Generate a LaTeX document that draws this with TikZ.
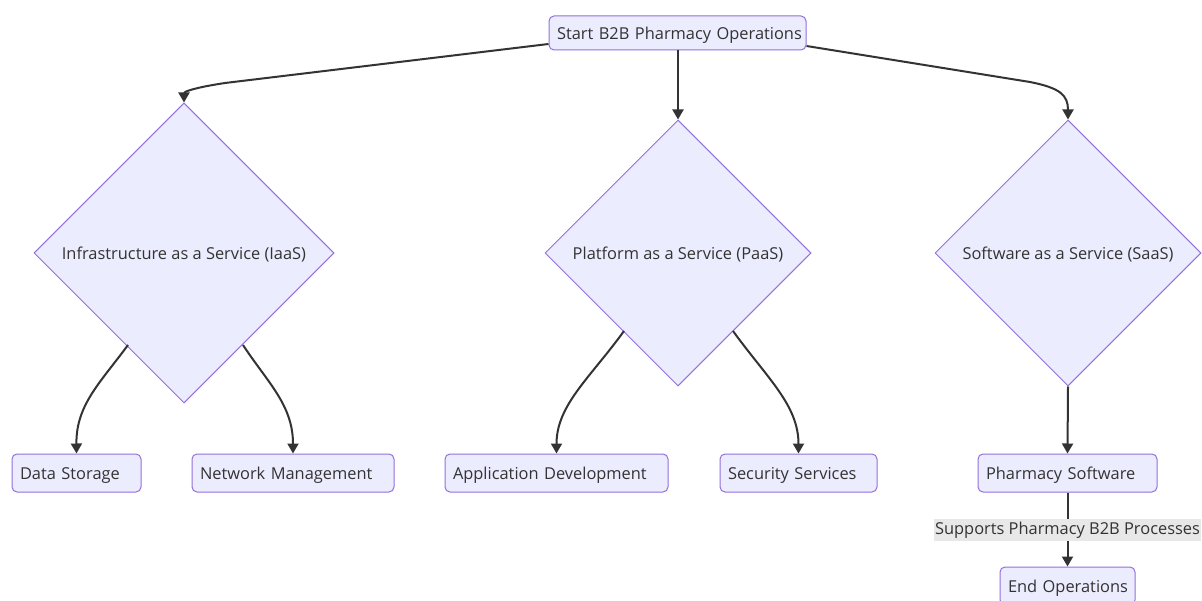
\documentclass[tikz,border=0pt]{standalone}
\usepackage{fontspec}
\setmainfont{Open Sans}
\usetikzlibrary{shapes.geometric,arrows.meta,calc}
\definecolor{nodefill}{HTML}{ECECFF}
\definecolor{nodeline}{HTML}{9370DB}
\definecolor{edgecol}{HTML}{333333}
\definecolor{txt}{HTML}{333333}
\definecolor{lblbg}{HTML}{E8E8E8}
\begin{document}
\begin{tikzpicture}[x=1pt,y=-1pt,
  font=\fontsize{16.4}{19}\selectfont, text=txt,
  box/.style={rectangle, rounded corners=5pt, draw=nodeline, fill=nodefill, line width=1pt,
    minimum height=38pt, inner xsep=8pt, inner ysep=0pt, align=left, text height=12.2pt, text depth=0pt},
  decision/.style={diamond, draw=nodeline, fill=nodefill, line width=1pt, inner sep=0pt, aspect=1,
    text height=12.2pt, text depth=0pt},
  edge/.style={draw=edgecol, line width=2pt, -{Triangle[length=10pt,width=11pt]}},
  lbl/.style={fill=lblbg, inner xsep=1pt, inner ysep=0pt, text height=16pt, text depth=6pt, text=txt}]
\useasboundingbox (0,0) rectangle (1202,601);
\fill[white] (0,0) rectangle (1202,601);

\node[box, minimum height=34pt, text width=241pt] (start) at (677.5,33) {\mbox{Start B2B Pharmacy Operations}};

\node[decision, minimum width=300pt, minimum height=300pt] (iaas) at (184,253) {Infrastructure as a Service (IaaS)};
\node[decision, minimum width=266pt, minimum height=266pt] (paas) at (678,253) {Platform as a Service (PaaS)};
\node[decision, minimum width=266pt, minimum height=266pt] (saas) at (1068,253) {Software as a Service (SaaS)};

\node[box, text width=113pt] (ds) at (76.5,473) {\mbox{Data Storage}};
\node[box, text width=186pt] (nm) at (293,473) {\mbox{Network Management}};
\node[box, text width=207pt] (ad) at (556.5,473) {\mbox{Application Development}};
\node[box, text width=141pt] (ss) at (798.5,473) {\mbox{Security Services}};
\node[box, text width=163pt] (ps) at (1067.5,473) {\mbox{Pharmacy Software}};
\node[box, text width=119pt] (eo) at (1067.5,586) {\mbox{End Operations}};

% top edges
\draw[edge] ($(start.west)+(0,11)$) -- (225,83) .. controls (192,88) and (184,92) .. (iaas.north);
\draw[edge] (start.south -| paas.north) -- (paas.north);
\draw[edge] ($(start.east)+(0,13)$) -- (1030,82) .. controls (1060,88) and (1068,95) .. (saas.north);

% diamond to boxes
\draw[edge] (128,345) .. controls (100,383) and (76,405) .. (ds.north);
\draw[edge] (243,345) .. controls (268,383) and (293,405) .. (nm.north);
\draw[edge] (624,331) .. controls (590,378) and (556.5,405) .. (ad.north);
\draw[edge] (733,331) .. controls (767,378) and (798.5,405) .. (ss.north);
\draw[edge] (saas.south) -- (ps.north);

% final edge with label
\draw[edge] (ps.south) -- node[lbl] (lab) {Supports Pharmacy B2B Processes} (eo.north);
\end{tikzpicture}
\end{document}
